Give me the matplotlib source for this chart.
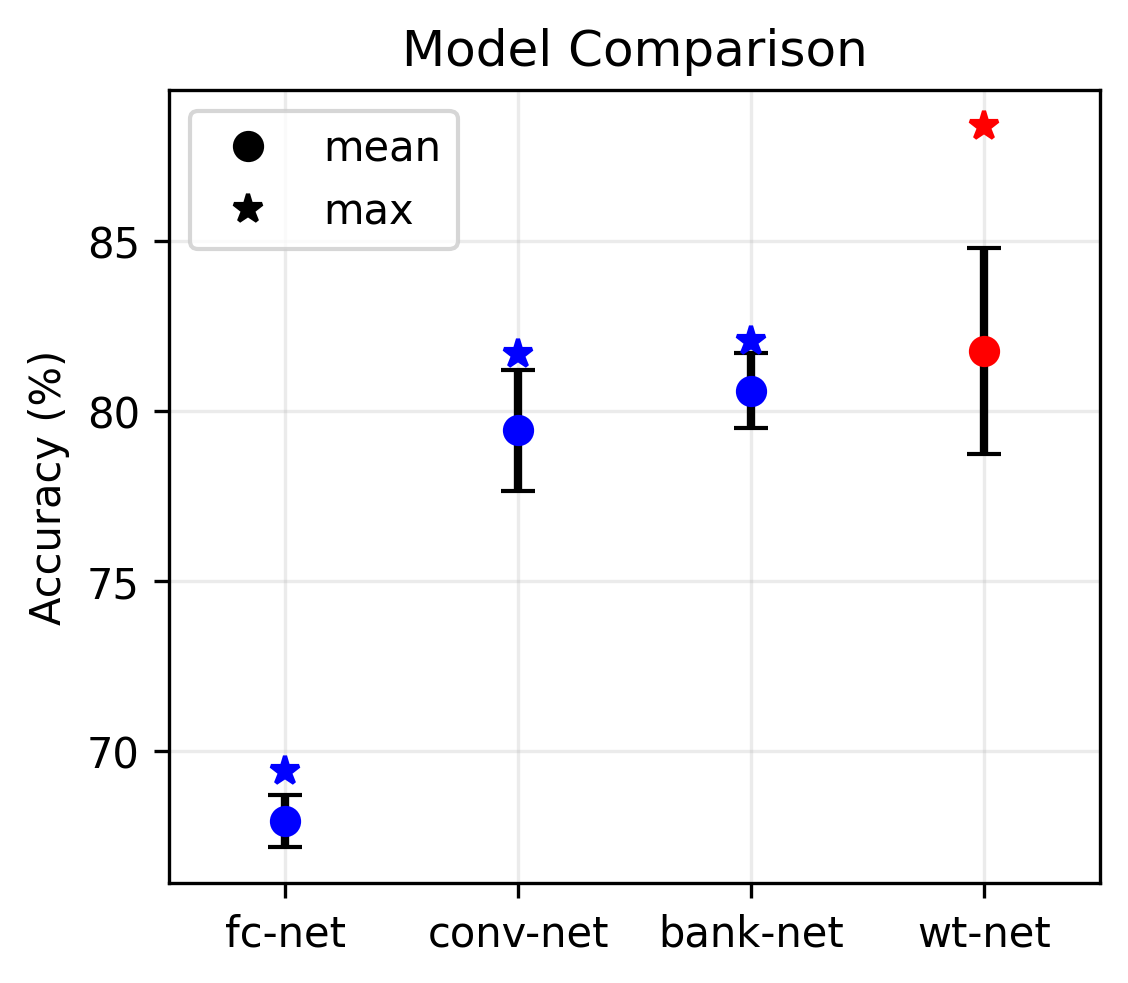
import numpy as np
import matplotlib
matplotlib.use('Agg')
import matplotlib.pyplot as plt

models = ['fc-net', 'conv-net', 'bank-net', 'wt-net']
mean_acc = [67.95, 79.44, 80.6, 81.77]
std_acc = [0.76, 1.78, 1.1, 3.03]
max_acc = [69.42, 81.68, 82.05, 88.38]
colors = ['blue', 'blue', 'blue', 'red']

fig, ax = plt.subplots(figsize=(3.76, 3.28), dpi=300)
x = np.arange(len(models))

ax.errorbar(x, mean_acc, yerr=std_acc, fmt='none', ecolor='black',
            elinewidth=2, capsize=4, zorder=2)
for i in range(len(models)):
    ax.plot(x[i], mean_acc[i], 'o', color=colors[i], markersize=6.5, zorder=3)
    ax.plot(x[i], max_acc[i], '*', color=colors[i], markersize=7, zorder=3)

ax.plot([], [], 'o', color='black', markersize=6.5, label='mean')
ax.plot([], [], '*', color='black', markersize=7, label='max')
ax.legend(loc='upper left')

ax.set_xticks(x)
ax.set_xticklabels(models)
ax.set_xlim(-0.5, 3.5)
ax.set_ylabel('Accuracy (%)')
ax.set_title('Model Comparison')
ax.grid(alpha=0.25)
fig.subplots_adjust(left=0.1498, right=0.9752, top=0.9075, bottom=0.1016)
plt.savefig('out.png', dpi=300)
